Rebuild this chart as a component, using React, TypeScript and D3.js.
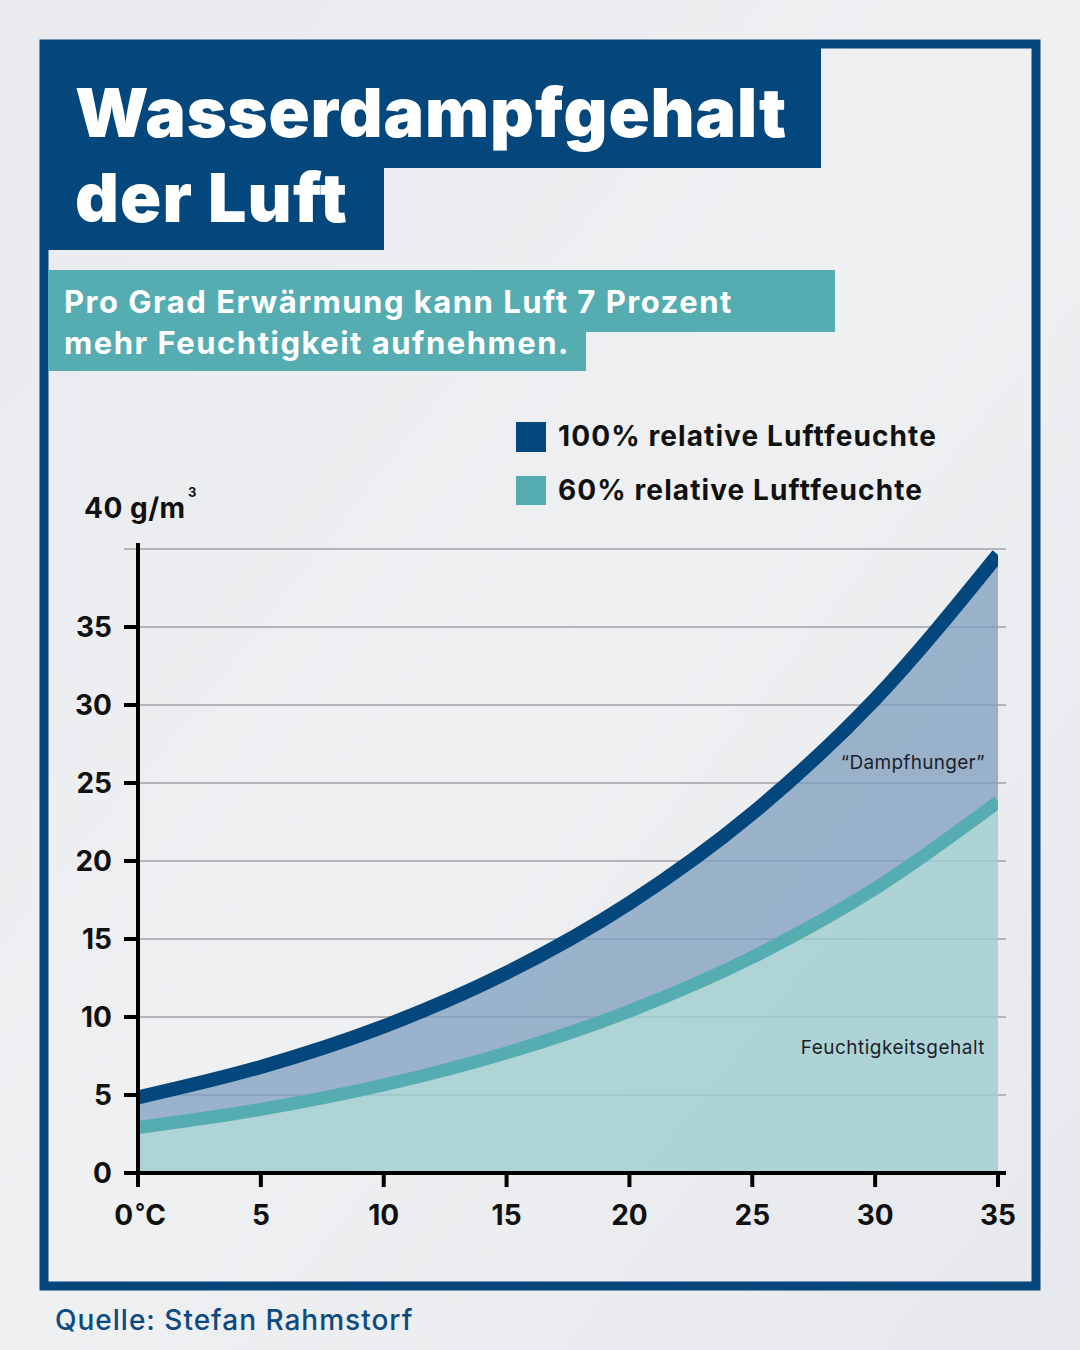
import React from 'react';
import { scaleLinear, line, area, curveMonotoneX } from 'd3';

// temperature in °C
const temps = [0, 5, 10, 15, 20, 25, 30, 35];
// water vapour content at saturation (g/m³)
const sat100 = [4.85, 6.8, 9.4, 12.83, 17.3, 23.05, 30.38, 39.63];
// water vapour content at 60% relative humidity (g/m³)
const sat60 = [2.91, 4.08, 5.64, 7.7, 10.38, 13.83, 18.23, 23.78];

const yTicks = [0, 5, 10, 15, 20, 25, 30, 35];
const gridValues = [5, 10, 15, 20, 25, 30, 35, 40];
const xTickLabels = ['0 °C', '5', '10', '15', '20', '25', '30', '35'];

const DARK = '#03477c';
const TEAL = '#55acb1';
const FONT = 'Inter, "Noto Sans", sans-serif';

export default function App() {
  const x = scaleLinear().domain([0, 35]).range([138, 998]);
  const y = scaleLinear().domain([0, 40]).range([1173, 549]);

  const rows = temps.map((t, i) => ({ t, hi: sat100[i], lo: sat60[i] }));

  const hiLine = line<any>().x(d => x(d.t)).y(d => y(d.hi)).curve(curveMonotoneX);
  const loLine = line<any>().x(d => x(d.t)).y(d => y(d.lo)).curve(curveMonotoneX);
  const loArea = area<any>().x(d => x(d.t)).y0(y(0)).y1(d => y(d.lo)).curve(curveMonotoneX);
  const bandArea = area<any>().x(d => x(d.t)).y0(d => y(d.lo)).y1(d => y(d.hi)).curve(curveMonotoneX);

  return (
    <svg width={1080} height={1350} style={{ position: 'absolute', left: 0, top: 0 }} fontFamily={FONT}>
      <defs>
        <linearGradient id="paper" x1="0" y1="0" x2="1" y2="1">
          <stop offset="0" stopColor="#e9eaed" />
          <stop offset="0.5" stopColor="#eff0f2" />
          <stop offset="1" stopColor="#e7e8eb" />
        </linearGradient>
        <clipPath id="plot">
          <rect x={138} y={500} width={860} height={673} />
        </clipPath>
      </defs>
      <rect width={1080} height={1350} fill="url(#paper)" />

      {/* frame */}
      <rect x={44} y={44} width={992} height={1242} fill="none" stroke={DARK} strokeWidth={9} />

      {/* title */}
      <rect x={44} y={44} width={777} height={124} fill={DARK} />
      <rect x={44} y={160} width={340} height={90} fill={DARK} />
      <text x={75} y={137} fill="#fff" fontSize={68} fontWeight={900} letterSpacing={0.9}>Wasserdampfgehalt</text>
      <text x={75} y={222} fill="#fff" fontSize={68} fontWeight={900} letterSpacing={1.2}>der Luft</text>

      {/* subtitle */}
      <rect x={48} y={270} width={787} height={62} fill={TEAL} />
      <rect x={48} y={330} width={538} height={41} fill={TEAL} />
      <text x={64} y={313} fill="#fff" fontSize={31} fontWeight={700} letterSpacing={1.5}>Pro Grad Erwärmung kann Luft 7 Prozent</text>
      <text x={64} y={354} fill="#fff" fontSize={31} fontWeight={700} letterSpacing={1.5}>mehr Feuchtigkeit aufnehmen.</text>

      {/* legend */}
      <rect x={516} y={422} width={30} height={30} fill={DARK} />
      <rect x={516} y={476} width={30} height={29} fill={TEAL} />
      <text x={558} y={446} fontSize={28} fontWeight={700} fill="#111" letterSpacing={1.1}>100% relative Luftfeuchte</text>
      <text x={558} y={500} fontSize={28} fontWeight={700} fill="#111" letterSpacing={1.1}>60% relative Luftfeuchte</text>

      {/* grid */}
      {gridValues.map(v => (
        <line key={v} x1={124} x2={1006} y1={y(v)} y2={y(v)} stroke="#b4b5b8" strokeWidth={2} />
      ))}

      {/* areas */}
      <g clipPath="url(#plot)">
        <path d={loArea(rows) || ''} fill="#9fcdd0" fillOpacity={0.8} />
        <path d={bandArea(rows) || ''} fill="#7e9dbd" fillOpacity={0.75} />
        <path d={loLine(rows) || ''} fill="none" stroke={TEAL} strokeWidth={13} />
        <path d={hiLine(rows) || ''} fill="none" stroke={DARK} strokeWidth={14} />
      </g>

      {/* annotations */}
      <text x={985} y={769} textAnchor="end" fontSize={19} fill="#1b1f2a" letterSpacing={0.3}>“Dampfhunger”</text>
      <text x={985} y={1054} textAnchor="end" fontSize={19} fill="#1b1f2a" letterSpacing={0.5}>Feuchtigkeitsgehalt</text>

      {/* y axis */}
      <line x1={138} x2={138} y1={543} y2={1175} stroke="#000" strokeWidth={4} />
      {yTicks.map(v => (
        <g key={v}>
          <line x1={124} x2={138} y1={y(v)} y2={y(v)} stroke="#000" strokeWidth={4} />
          <text x={112} y={y(v) + 10} textAnchor="end" fontSize={28} fontWeight={700} fill="#111">{v}</text>
        </g>
      ))}
      <text x={84} y={518} fontSize={28} fontWeight={700} fill="#111" letterSpacing={0.5}>40 g/m</text>
      <text x={188} y={497} fontSize={13} fontWeight={700} fill="#111">3</text>

      {/* x axis */}
      <line x1={136} x2={1006} y1={1173} y2={1173} stroke="#000" strokeWidth={4} />
      {temps.map((t, i) => (
        <g key={t}>
          <line x1={x(t)} x2={x(t)} y1={1173} y2={1187} stroke="#000" strokeWidth={4} />
          <text x={i === 0 ? x(t) + 2 : x(t)} y={1225} textAnchor="middle" fontSize={28} fontWeight={700} fill="#111">
            {i === 0 ? <><tspan>0</tspan><tspan dx={2} fontSize={22} dy={-6}>°</tspan><tspan dy={6}>C</tspan></> : xTickLabels[i]}
          </text>
        </g>
      ))}

      {/* source */}
      <text x={55} y={1330} fontSize={28} fontWeight={500} fill="#0d4a7f" letterSpacing={1}>Quelle: Stefan Rahmstorf</text>
    </svg>
  );
}
